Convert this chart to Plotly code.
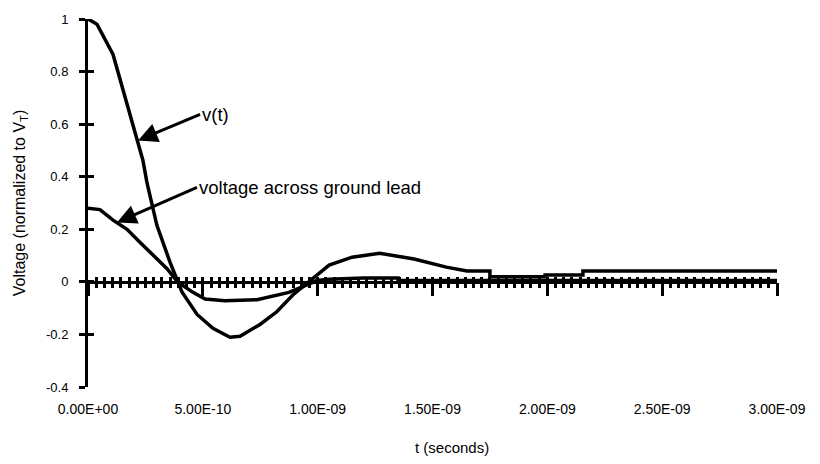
import plotly.graph_objects as go

# ---- data ----
t_v = [0.0, 3.9e-11, 1.09e-10, 1.83e-10, 2.39e-10, 2.57e-10, 3.0e-10, 3.57e-10, 3.9e-10,
       4.09e-10, 4.75e-10, 5.44e-10, 6.18e-10, 6.62e-10, 7.49e-10, 8.23e-10, 8.93e-10,
       9.8e-10, 1.05e-9, 1.15e-9, 1.27e-9, 1.42e-9, 1.56e-9, 1.65e-9, 1.75e-9, 1.75e-9,
       1.99e-9, 1.99e-9, 2.155e-9, 2.155e-9, 3.0e-9]
v_t = [1.0, 0.98, 0.865, 0.64, 0.463, 0.376, 0.215, 0.075, 0.0,
       -0.038, -0.124, -0.177, -0.211, -0.207, -0.162, -0.113, -0.049,
       0.015, 0.064, 0.094, 0.109, 0.087, 0.056, 0.041, 0.041, 0.019,
       0.019, 0.026, 0.026, 0.041, 0.041]

t_g = [0.0, 5.2e-11, 1.09e-10, 1.7e-10, 2.27e-10, 2.83e-10, 3.44e-10, 3.9e-10, 4.57e-10,
       5.1e-10, 5.96e-10, 7.36e-10, 8.05e-10, 8.75e-10, 9.3e-10, 9.97e-10, 1.05e-9,
       1.2e-9, 1.35e-9, 1.35e-9, 3.0e-9]
v_g = [0.28, 0.275, 0.235, 0.20, 0.15, 0.10, 0.05, 0.0, -0.04,
       -0.065, -0.072, -0.068, -0.055, -0.04, -0.02, 0.005, 0.01,
       0.015, 0.015, 0.005, 0.005]

x_tick_vals = [0.0, 5e-10, 1e-9, 1.5e-9, 2e-9, 2.5e-9, 3e-9]
x_tick_text = ["0.00E+00", "5.00E-10", "1.00E-09", "1.50E-09", "2.00E-09", "2.50E-09", "3.00E-09"]
y_tick_vals = [-0.4, -0.2, 0.0, 0.2, 0.4, 0.6, 0.8, 1.0]
y_tick_text = ["-0.4", "-0.2", "0", "0.2", "0.4", "0.6", "0.8", "1"]

x_range = [0.0, 3e-9]
y_range = [-0.4, 1.0]
minor_step = 5e-10 / 14

FONT = "Arial, Liberation Sans, sans-serif"

fig = go.Figure()
fig.add_trace(go.Scatter(x=t_v, y=v_t, mode="lines", line=dict(color="black", width=3.5),
                         showlegend=False, hoverinfo="skip"))
fig.add_trace(go.Scatter(x=t_g, y=v_g, mode="lines", line=dict(color="black", width=3.5),
                         showlegend=False, hoverinfo="skip"))

zero_pos = (0 - y_range[0]) / (y_range[1] - y_range[0])

common_free = dict(range=x_range, overlaying="x", anchor="free", position=zero_pos,
                   showgrid=False, zeroline=False, showticklabels=False, tick0=0,
                   tickcolor="black")

fig.update_layout(
    width=820, height=464,
    margin=dict(l=88, r=43, t=15, b=77),
    paper_bgcolor="white", plot_bgcolor="white",
    font=dict(family=FONT, color="black"),
    xaxis=dict(range=x_range, showline=False, showgrid=False, zeroline=False,
               tickmode="array", tickvals=x_tick_vals, ticktext=x_tick_text,
               ticks="", tickfont=dict(size=14), ticklabelstandoff=12),
    # axis line + long major ticks below
    xaxis2=dict(**common_free, showline=True, linewidth=3, linecolor="black",
                ticks="outside", dtick=5e-10, ticklen=12, tickwidth=3),
    # minor ticks above the line
    xaxis3=dict(**common_free, showline=False, ticks="inside", dtick=minor_step,
                ticklen=5, tickwidth=3),
    # minor ticks below the line
    xaxis4=dict(**common_free, showline=False, ticks="outside", dtick=minor_step,
                ticklen=5, tickwidth=3),
    yaxis=dict(range=y_range, showline=True, linewidth=3, linecolor="black",
               showgrid=False, zeroline=False, tickmode="array", tickvals=y_tick_vals,
               ticktext=y_tick_text, ticks="outside", ticklen=6, tickwidth=3,
               tickcolor="black", tickfont=dict(size=13), ticklabelstandoff=8,
               title=dict(text="Voltage (normalized to V<sub>T</sub>)",
                          font=dict(size=16), standoff=17)),
    yaxis2=dict(range=y_range, overlaying="y", anchor="x", side="left", showline=False,
                showgrid=False, zeroline=False, showticklabels=False, tickmode="array",
                tickvals=y_tick_vals, ticks="inside", ticklen=6, tickwidth=3,
                tickcolor="black"),
)

# attach empty traces so the overlay axes render
for xa in ["x2", "x3", "x4"]:
    fig.add_trace(go.Scatter(x=[None], y=[None], xaxis=xa, yaxis="y", showlegend=False,
                             hoverinfo="skip"))
fig.add_trace(go.Scatter(x=[None], y=[None], xaxis="x", yaxis="y2", showlegend=False,
                         hoverinfo="skip"))

fig.add_annotation(x=2.18e-10, y=0.538, xref="x", yref="y", text="v(t)",
                   showarrow=True, arrowhead=2, arrowsize=1.3, arrowwidth=3,
                   arrowcolor="black", ax=62, ay=-26, xanchor="left", yanchor="middle",
                   font=dict(size=18.5))
fig.add_annotation(x=1.26e-10, y=0.226, xref="x", yref="y", text="voltage across ground lead",
                   showarrow=True, arrowhead=2, arrowsize=1.3, arrowwidth=3,
                   arrowcolor="black", ax=80, ay=-35, xanchor="left", yanchor="middle",
                   font=dict(size=18.5))
fig.add_annotation(x=0.528, y=-0.164, xref="paper", yref="paper", text="t (seconds)",
                   showarrow=False, xanchor="center", yanchor="middle",
                   font=dict(size=15))

fig.write_html("out.html")
